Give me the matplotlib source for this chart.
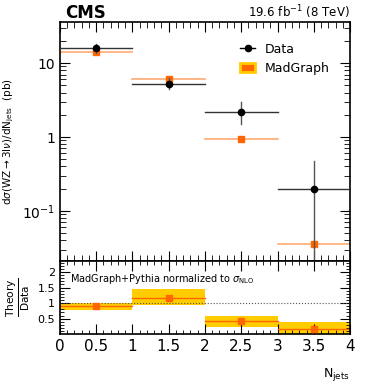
import matplotlib.pyplot as plt
from matplotlib.ticker import MultipleLocator, FixedLocator
from matplotlib.lines import Line2D
from matplotlib.patches import Patch

# N_jets bins
bin_lo = [0, 1, 2, 3]
bin_hi = [1, 2, 3, 4]
centers = [0.5, 1.5, 2.5, 3.5]

# measured cross section (pb)
data = [16.0, 5.2, 2.2, 0.2]
data_up = [17.9, 6.2, 2.97, 0.47]
data_dn = [13.5, 4.4, 1.5, 0.001]

# MadGraph prediction (pb)
mg = [14.2, 6.0, 0.93, 0.036]

# ratio theory/data with band
ratio = [0.90, 1.17, 0.43, 0.17]
ratio_up = [1.02, 1.45, 0.60, 0.38]
ratio_dn = [0.78, 0.93, 0.25, 0.0]

fig = plt.figure(figsize=(3.74, 3.92), dpi=100)
ax = fig.add_axes([0.160, 0.334, 0.776, 0.610])
rax = fig.add_axes([0.160, 0.148, 0.776, 0.186], sharex=ax)

orange = '#ff6600'
light_orange = '#ffaa70'
gold = '#ffcc00'

# main panel
for lo, hi, c, v in zip(bin_lo, bin_hi, centers, mg):
    ax.plot([lo, hi], [v, v], color=light_orange, lw=1.2, zorder=2)
ax.plot(centers, mg, 's', color=orange, ms=4.5, zorder=3)

for lo, hi, c, v, u, d in zip(bin_lo, bin_hi, centers, data, data_up, data_dn):
    ax.plot([lo, hi], [v, v], color='#333333', lw=1.0, zorder=4)
    ax.plot([c, c], [d, u], color='#555555', lw=1.0, zorder=4)
ax.plot(centers, data, 'o', color='black', ms=4.5, zorder=5)

ax.set_yscale('log')
ax.set_ylim(0.021, 36)
ax.set_xlim(0, 4)
ax.set_yticks([0.1, 1, 10])
ax.set_yticklabels(['$10^{-1}$', '1', '10'])
ax.tick_params(axis='both', which='both', direction='in', top=True, right=True, labelsize=10)
ax.tick_params(axis='x', labelbottom=False)
ax.tick_params(which='major', length=7)
ax.tick_params(which='minor', length=4)
ax.xaxis.set_major_locator(MultipleLocator(0.5))
ax.xaxis.set_minor_locator(MultipleLocator(0.1))
ax.set_ylabel(r'd$\sigma$(WZ$\rightarrow$3l$\nu$)/dN$_{\rm jets}$  (pb)', fontsize=7.5, labelpad=4)

handles = [Line2D([], [], marker='o', color='black', ms=4.5, lw=1),
           Patch(facecolor=orange, edgecolor=gold, lw=2)]
ax.legend(handles, ['Data', 'MadGraph'], loc='upper right', frameon=False,
          fontsize=9, bbox_to_anchor=(0.97, 0.96), handlelength=1.2)

# ratio panel
for lo, hi, v, u, d in zip(bin_lo, bin_hi, ratio, ratio_up, ratio_dn):
    rax.fill_between([lo, hi], [d, d], [u, u], color=gold, lw=0, zorder=1)
    rax.plot([lo, hi], [v, v], color=orange, lw=1.0, zorder=2)
rax.plot(centers, ratio, 's', color=orange, ms=4.5, zorder=3)
rax.axhline(1, color='#555555', ls=':', lw=0.8, zorder=2)

rax.set_ylim(0.01, 2.35)
rax.yaxis.set_major_locator(FixedLocator([0.5, 1, 1.5, 2]))
rax.set_yticklabels(['0.5', '1', '1.5', '2'])
rax.yaxis.set_minor_locator(MultipleLocator(0.1))
rax.tick_params(axis='both', which='both', direction='in', top=True, right=True, labelsize=8)
rax.tick_params(axis='x', labelsize=11)
rax.tick_params(which='major', length=7)
rax.tick_params(which='minor', length=3)
rax.set_xticks([0, 0.5, 1, 1.5, 2, 2.5, 3, 3.5, 4])
rax.set_xticklabels(['0', '0.5', '1', '1.5', '2', '2.5', '3', '3.5', '4'])
rax.set_ylabel(r'$\frac{\rm Theory}{\rm Data}$', fontsize=11, labelpad=4)
rax.text(0.14, 1.77, r'MadGraph+Pythia normalized to $\sigma_{\rm NLO}$', fontsize=7, va='center')

for a in (ax, rax):
    for s in a.spines.values():
        s.set_linewidth(1.2)

fig.text(0.175, 0.968, 'CMS', fontsize=12, fontweight='bold', va='center')
fig.text(0.936, 0.968, r'19.6 fb$^{-1}$ (8 TeV)', fontsize=8.5, ha='right', va='center')
fig.text(0.936, 0.045, r'N$_{\rm jets}$', fontsize=9, ha='right', va='center')

fig.savefig('out.png', dpi=100)
